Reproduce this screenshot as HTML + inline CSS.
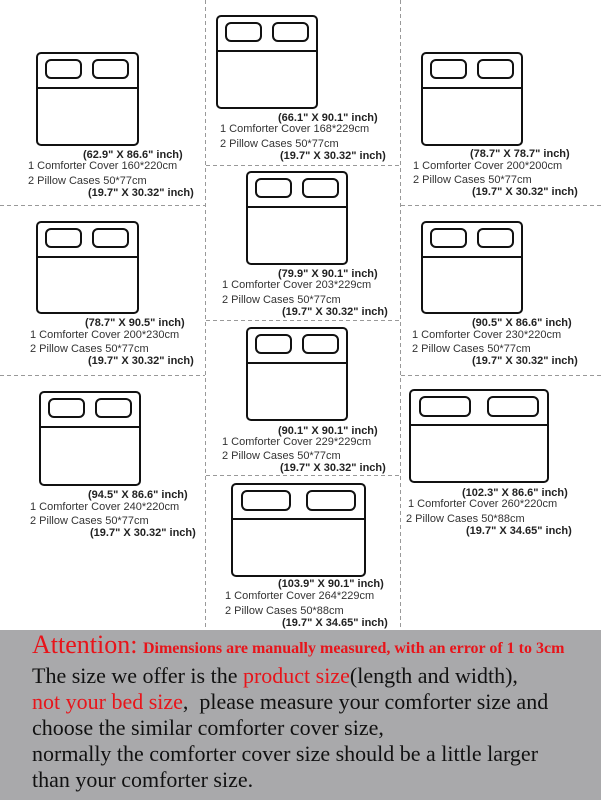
<!DOCTYPE html>
<html><head><meta charset="utf-8"><style>
html,body{margin:0;padding:0;background:#fff;width:601px;height:800px;overflow:hidden}
.bot{position:absolute;left:0;top:630px;width:601px;height:170px;background:#a9a9ab;font-family:"Liberation Serif",serif;color:#111}
.l{position:absolute;left:32px;font-size:22px;white-space:nowrap}
.r{color:#e8141a}
</style></head><body>
<svg width="601" height="630" style="position:absolute;left:0;top:0" font-family="Liberation Sans, sans-serif" font-size="11" fill="#333">
<g stroke="#999" stroke-dasharray="4,3" stroke-width="1">
<line x1="205.5" y1="0" x2="205.5" y2="630"/><line x1="400.5" y1="0" x2="400.5" y2="630"/>
<line x1="0" y1="205.5" x2="205" y2="205.5"/><line x1="0" y1="375.5" x2="205" y2="375.5"/>
<line x1="206" y1="165.5" x2="400" y2="165.5"/><line x1="206" y1="320.5" x2="400" y2="320.5"/><line x1="206" y1="475.5" x2="400" y2="475.5"/>
<line x1="401" y1="205.5" x2="601" y2="205.5"/><line x1="401" y1="375.5" x2="601" y2="375.5"/>
</g>
<g fill="none" stroke="#111" stroke-width="2">
<rect x="37" y="53" width="101" height="92" rx="4"/><line x1="37" y1="88" x2="138" y2="88"/><rect x="46" y="60" width="35" height="18" rx="5"/><rect x="93" y="60" width="35" height="18" rx="5"/>
<rect x="217" y="16" width="100" height="92" rx="4"/><line x1="217" y1="51" x2="317" y2="51"/><rect x="226" y="23" width="35" height="18" rx="5"/><rect x="273" y="23" width="35" height="18" rx="5"/>
<rect x="422" y="53" width="100" height="92" rx="4"/><line x1="422" y1="88" x2="522" y2="88"/><rect x="431" y="60" width="35" height="18" rx="5"/><rect x="478" y="60" width="35" height="18" rx="5"/>
<rect x="37" y="222" width="101" height="91" rx="4"/><line x1="37" y1="257" x2="138" y2="257"/><rect x="46" y="229" width="35" height="18" rx="5"/><rect x="93" y="229" width="35" height="18" rx="5"/>
<rect x="247" y="172" width="100" height="92" rx="4"/><line x1="247" y1="207" x2="347" y2="207"/><rect x="256" y="179" width="35" height="18" rx="5"/><rect x="303" y="179" width="35" height="18" rx="5"/>
<rect x="422" y="222" width="100" height="91" rx="4"/><line x1="422" y1="257" x2="522" y2="257"/><rect x="431" y="229" width="35" height="18" rx="5"/><rect x="478" y="229" width="35" height="18" rx="5"/>
<rect x="40" y="392" width="100" height="93" rx="4"/><line x1="40" y1="427" x2="140" y2="427"/><rect x="49" y="399" width="35" height="18" rx="5"/><rect x="96" y="399" width="35" height="18" rx="5"/>
<rect x="247" y="328" width="100" height="92" rx="4"/><line x1="247" y1="363" x2="347" y2="363"/><rect x="256" y="335" width="35" height="18" rx="5"/><rect x="303" y="335" width="35" height="18" rx="5"/>
<rect x="410" y="390" width="138" height="92" rx="4"/><line x1="410" y1="425" x2="548" y2="425"/><rect x="420" y="397" width="50" height="19" rx="5"/><rect x="488" y="397" width="50" height="19" rx="5"/>
<rect x="232" y="484" width="133" height="92" rx="4"/><line x1="232" y1="519" x2="365" y2="519"/><rect x="242" y="491" width="48" height="19" rx="5"/><rect x="307" y="491" width="48" height="19" rx="5"/>
</g>
<g>
<text x="83" y="158" font-weight="bold" fill="#222">(62.9" X 86.6" inch)</text><text x="28" y="169">1 Comforter Cover 160*220cm</text><text x="28" y="184">2 Pillow Cases 50*77cm</text><text x="88" y="196" font-weight="bold" fill="#222">(19.7" X 30.32" inch)</text>
<text x="278" y="121" font-weight="bold" fill="#222">(66.1" X 90.1" inch)</text><text x="220" y="132">1 Comforter Cover 168*229cm</text><text x="220" y="147">2 Pillow Cases 50*77cm</text><text x="280" y="159" font-weight="bold" fill="#222">(19.7" X 30.32" inch)</text>
<text x="470" y="157" font-weight="bold" fill="#222">(78.7" X 78.7" inch)</text><text x="413" y="169">1 Comforter Cover 200*200cm</text><text x="413" y="183">2 Pillow Cases 50*77cm</text><text x="472" y="195" font-weight="bold" fill="#222">(19.7" X 30.32" inch)</text>
<text x="85" y="326" font-weight="bold" fill="#222">(78.7" X 90.5" inch)</text><text x="30" y="338">1 Comforter Cover 200*230cm</text><text x="30" y="352">2 Pillow Cases 50*77cm</text><text x="88" y="364" font-weight="bold" fill="#222">(19.7" X 30.32" inch)</text>
<text x="278" y="277" font-weight="bold" fill="#222">(79.9" X 90.1" inch)</text><text x="222" y="288">1 Comforter Cover 203*229cm</text><text x="222" y="303">2 Pillow Cases 50*77cm</text><text x="282" y="315" font-weight="bold" fill="#222">(19.7" X 30.32" inch)</text>
<text x="472" y="326" font-weight="bold" fill="#222">(90.5" X 86.6" inch)</text><text x="412" y="338">1 Comforter Cover 230*220cm</text><text x="412" y="352">2 Pillow Cases 50*77cm</text><text x="472" y="364" font-weight="bold" fill="#222">(19.7" X 30.32" inch)</text>
<text x="88" y="498" font-weight="bold" fill="#222">(94.5" X 86.6" inch)</text><text x="30" y="510">1 Comforter Cover 240*220cm</text><text x="30" y="524">2 Pillow Cases 50*77cm</text><text x="90" y="536" font-weight="bold" fill="#222">(19.7" X 30.32" inch)</text>
<text x="278" y="434" font-weight="bold" fill="#222">(90.1" X 90.1" inch)</text><text x="222" y="445">1 Comforter Cover 229*229cm</text><text x="222" y="459">2 Pillow Cases 50*77cm</text><text x="280" y="471" font-weight="bold" fill="#222">(19.7" X 30.32" inch)</text>
<text x="462" y="496" font-weight="bold" fill="#222">(102.3" X 86.6" inch)</text><text x="408" y="507">1 Comforter Cover 260*220cm</text><text x="406" y="522">2 Pillow Cases 50*88cm</text><text x="466" y="534" font-weight="bold" fill="#222">(19.7" X 34.65" inch)</text>
<text x="278" y="587" font-weight="bold" fill="#222">(103.9" X 90.1" inch)</text><text x="225" y="599">1 Comforter Cover 264*229cm</text><text x="225" y="614">2 Pillow Cases 50*88cm</text><text x="282" y="626" font-weight="bold" fill="#222">(19.7" X 34.65" inch)</text>
</g>
</svg>
<div class="bot">
<div class="l" style="top:0px"><span class="r" style="font-size:26px">Attention:</span> <span class="r" style="font-size:16px;font-weight:bold;font-family:'Liberation Serif',serif">Dimensions are manually measured, with an error of 1 to 3cm</span></div>
<div class="l" style="top:33px">The size we offer is the <span class="r">product size</span>(length and width),</div>
<div class="l" style="top:59px"><span class="r">not your bed size</span>,&nbsp; please measure your comforter size and</div>
<div class="l" style="top:85px">choose the similar comforter cover size,</div>
<div class="l" style="top:111px">normally the comforter cover size should be a little larger</div>
<div class="l" style="top:137px">than your comforter size.</div>
</div>
</body></html>
